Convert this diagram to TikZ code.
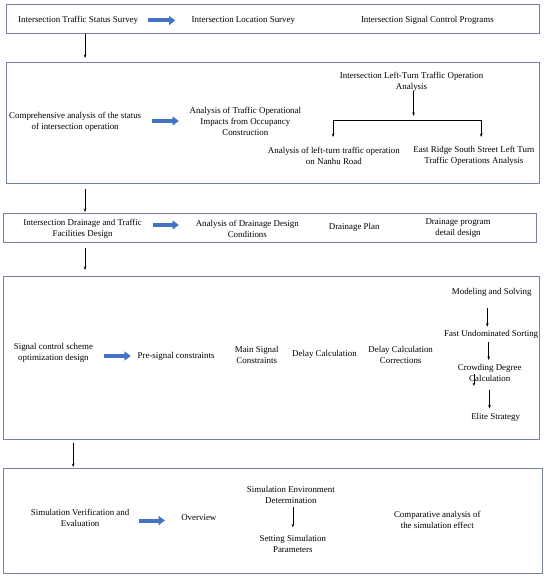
\documentclass[tikz,border=0pt]{standalone}
\usepackage{fontspec}
\setmainfont{Liberation Serif}
\usetikzlibrary{arrows.meta}
\definecolor{boxc}{RGB}{118,130,152}
\definecolor{ablue}{RGB}{68,114,196}
\begin{document}
\begin{tikzpicture}[x=0.9893pt,y=-1pt,
  font=\fontsize{8.9}{11}\selectfont,
  box/.style={draw=boxc, line width=0.8pt, anchor=north west, inner sep=0pt},
  txt/.style={align=center, inner sep=0pt},
  arr/.style={-{Stealth[length=3.5pt,width=2.6pt]}, line width=0.6pt},
  bluearr/.style={draw=ablue, line width=4pt, -{Triangle[length=6pt,width=9pt,line width=0.2pt]}}
]
\useasboundingbox (0,0) rectangle (556,577);
\fill[white] (0,0) rectangle (556,577);

% ---------- boxes
\node[box, minimum width=533pt, minimum height=29pt] (b1) at (6,4) {};
\node[box, minimum width=533pt, minimum height=121pt] (b2) at (6,62) {};
\node[box, minimum width=532.7pt, minimum height=29pt] (b3) at (3,213) {};
\node[box, minimum width=536pt, minimum height=163pt] (b4) at (3,276) {};
\node[box, minimum width=539pt, minimum height=105pt] (b5) at (3,468) {};

% ---------- box 1
\node[txt] (t11) at (79,20.5) {Intersection Traffic Status Survey};
\node[txt] (t12) at (246,20.5) {Intersection Location Survey};
\node[txt] (t13) at (432,20.5) {Intersection Signal Control Programs};
\coordinate (a1s) at (150,20.5); \coordinate (a1e) at (177,20.5);
\draw[bluearr] (a1s) -- (a1e);

% ---------- box 2
\node[txt] (t21) at (76,122) {Comprehensive analysis of the status\\of intersection operation};
\node[txt] (t22) at (248,121) {Analysis of Traffic Operational\\Impacts from Occupancy\\Construction};
\node[txt] (t23) at (416,82) {Intersection Left-Turn Traffic Operation\\Analysis};
\node[txt] (t24) at (337.5,156) {Analysis of left-turn traffic operation\\on Nanhu Road};
\node[txt] (t25) at (479,156) {East Ridge South Street Left Turn\\Traffic Operations Analysis};
\coordinate (a2s) at (154,121); \coordinate (a2e) at (180.6,121);
\draw[bluearr] (a2s) -- (a2e);
\coordinate (j0) at (418,91); \coordinate (j1) at (418,116);
\coordinate (hl) at (336.7,120); \coordinate (hr) at (486.4,120);
\coordinate (hle) at (336.7,137); \coordinate (hre) at (486.4,137);
\draw[arr] (j0) -- (j1);
\draw[line width=0.6pt] (hl) -- (hr);
\draw[arr] (hl) -- (hle);
\draw[arr] (hr) -- (hre);

% ---------- box 3
\node[txt] (t31) at (83.5,229) {Intersection Drainage and Traffic\\Facilities Design};
\node[txt] (t32) at (250,229) {Analysis of Drainage Design\\Conditions};
\node[txt] (t33) at (358,227) {Drainage Plan};
\node[txt] (t34) at (463,228) {Drainage program\\detail design};
\coordinate (a3s) at (154.7,225); \coordinate (a3e) at (180.6,225);
\draw[bluearr] (a3s) -- (a3e);

% ---------- box 4
\node[txt] (t41) at (54,353) {Signal control scheme\\optimization design};
\node[txt] (t42) at (178,356) {Pre-signal constraints};
\node[txt] (t43) at (259.5,354.5) {Main Signal\\Constraints};
\node[txt] (t44) at (328,354) {Delay Calculation};
\node[txt] (t45) at (405,355) {Delay Calculation\\Corrections};
\node[txt] (m1) at (497,292.6) {Modeling and Solving};
\node[txt] (m2) at (496.5,334.6) {Fast Undominated Sorting};
\node[txt] (m3) at (495,373) {Crowding Degree\\Calculation};
\node[txt] (m4) at (501,417.5) {Elite Strategy};
\coordinate (a4s) at (105,356); \coordinate (a4e) at (132,356);
\draw[bluearr] (a4s) -- (a4e);
\coordinate (c1s) at (492.5,307.5); \coordinate (c1e) at (492.5,326.7);
\coordinate (c2s) at (494,342); \coordinate (c2e) at (494,360);
\coordinate (c3s) at (479,374); \coordinate (c3e) at (479,386);
\coordinate (c4s) at (494.8,390); \coordinate (c4e) at (494.8,408.5);
\draw[arr] (c1s) -- (c1e);
\draw[arr] (c2s) -- (c2e);
\draw[arr] (c3s) -- (c3e);
\draw[arr] (c4s) -- (c4e);

% ---------- box 5
\node[txt] (t51) at (81,518) {Simulation Verification and\\Evaluation};
\node[txt] (t52) at (201,518) {Overview};
\node[txt] (t53) at (294,495) {Simulation Environment\\Determination};
\node[txt] (t54) at (296,544) {Setting Simulation\\Parameters};
\node[txt] (t55) at (442,520) {Comparative analysis of\\the simulation effect};
\coordinate (a5s) at (140.5,520.5); \coordinate (a5e) at (166.5,520.5);
\draw[bluearr] (a5s) -- (a5e);
\coordinate (d1s) at (296,506.7); \coordinate (d1e) at (296,527.4);
\draw[arr] (d1s) -- (d1e);

% ---------- connectors between boxes
\coordinate (xa) at (86,0);
\coordinate (xb) at (74,0);
\draw[arr, shorten >=4pt] (b1.south -| xa) -- (b2.north -| xa);
\draw[arr, shorten <=5pt, shorten >=1pt] (b2.south -| xa) -- (b3.north -| xa);
\draw[arr, shorten <=5pt, shorten >=6pt] (b3.south -| xa) -- (b4.north -| xa);
\draw[arr, shorten <=3pt, shorten >=1pt] (b4.south -| xb) -- (b5.north -| xb);
\end{tikzpicture}
\end{document}
